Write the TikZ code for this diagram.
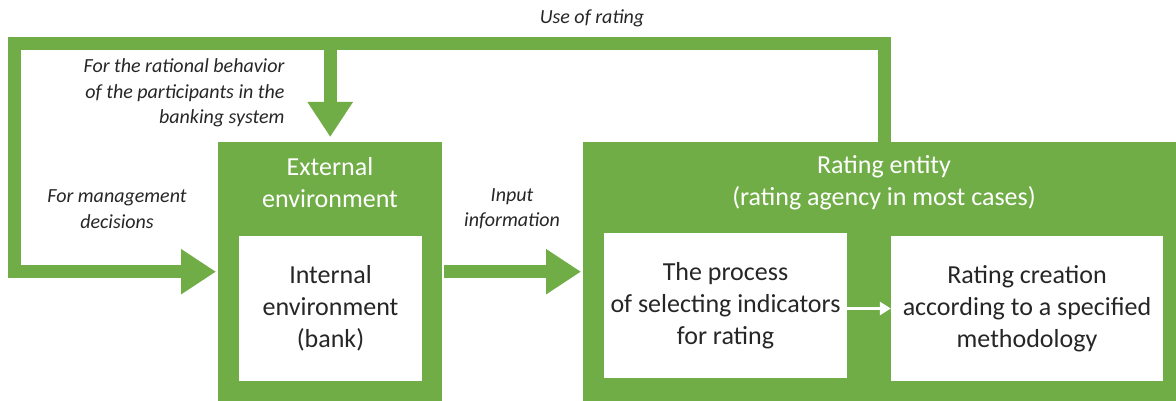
\documentclass[tikz,border=0pt]{standalone}
\usepackage{fontspec}
\setmainfont{Carlito}
\usetikzlibrary{arrows.meta,positioning}
\definecolor{leaf}{HTML}{70AD47}
\definecolor{ink}{HTML}{262626}
\begin{document}
\begin{tikzpicture}[x=1pt, y=-1pt,
    outer/.style={fill=leaf, draw=none, inner sep=0pt, anchor=north west},
    inner/.style={fill=white, draw=none, inner sep=0pt, align=center, text=ink, font=\fontsize{26}{32}\selectfont},
    title/.style={align=center, text=white, font=\fontsize{26}{32}\selectfont},
    note/.style={align=center, text=ink, font=\fontsize{20}{25.5}\selectfont\itshape},
    flow/.style={leaf, line width=13pt, line join=miter, -{Triangle[length=35pt,width=43pt]}},
    link/.style={white, line width=3pt, -{Triangle[length=11pt,width=13pt]}}]
  \useasboundingbox (0,0) rectangle (1176,401);
  \node [outer, minimum width=224pt, minimum height=259pt] (ext) at (218,142) {};
  \node [outer, minimum width=593pt, minimum height=259pt] (rate) at (583,142) {};
  \node [title] (extT) at (330,183) {External\\environment};
  \node [title] (rateT) at (884,183) {Rating entity\\(rating agency in most cases)};
  \node [inner, minimum width=183pt, minimum height=145pt] (int) at (330.5,308.5) {Internal\\environment\\(bank)};
  \node [inner, minimum width=243pt, minimum height=145pt] (sel) at (725.5,305.5) {The process\\of selecting indicators\\for rating};
  \node [inner, minimum width=272pt, minimum height=145pt] (crt) at (1027,308.5) {Rating creation\\according to a specified\\methodology};
  \coordinate (tr) at (884,44);
  \coordinate (tl) at (14,44);
  \draw [flow, shorten >=2pt] (rate.north -| tr) -- (tr) -- (tl) |- (ext.west);
  \draw [flow, shorten >=5pt] (tl -| ext.north) -- (ext.north);
  \draw [flow, shorten <=2pt, shorten >=2pt] (ext.east) -- (rate.west);
  \draw [link] (sel.east |- crt.west) -- (crt.west);
  \node [note] (useN) at (592,18) {Use of rating};
  \node [note, align=right, anchor=east] (ratN) at (288,93) {For the rational behavior\\of the participants in the\\banking system};
  \node [note] (mgmtN) at (117,209) {For management\\decisions};
  \node [note] (inN) at (512,209) {Input\\information};
\end{tikzpicture}
\end{document}
